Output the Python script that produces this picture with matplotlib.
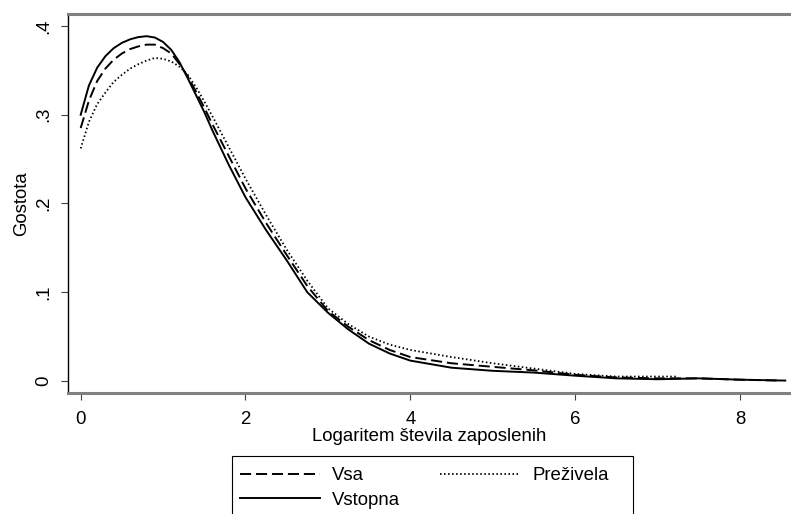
import numpy as np
import matplotlib
matplotlib.use("Agg")
import matplotlib.pyplot as plt
from matplotlib.patches import Rectangle

plt.rcParams['font.family'] = ['Liberation Sans', 'DejaVu Sans']
plt.rcParams['lines.scale_dashes'] = False

# Density estimates
x_vstopna = [0.0, 0.1, 0.2, 0.3, 0.4, 0.5, 0.6, 0.7, 0.8, 0.9, 1.0, 1.1, 1.2, 1.3, 1.4,
             1.5, 1.6, 1.8, 2.0, 2.25, 2.5, 2.75, 3.0, 3.25, 3.5, 3.75, 4.0, 4.5, 5.0,
             5.5, 6.0, 6.5, 7.0, 7.5, 8.0, 8.55]
y_vstopna = [0.300, 0.333, 0.353, 0.366, 0.375, 0.381, 0.385, 0.3875, 0.3885, 0.387, 0.382,
             0.373, 0.359, 0.341, 0.322, 0.303, 0.282, 0.243, 0.207, 0.170, 0.136, 0.100,
             0.077, 0.058, 0.042, 0.031, 0.023, 0.015, 0.0115, 0.0095, 0.006, 0.003,
             0.002, 0.003, 0.0015, 0.0005]

x_vsa = [0.0, 0.1, 0.2, 0.3, 0.4, 0.5, 0.6, 0.7, 0.8, 0.9, 1.0, 1.1, 1.2, 1.3, 1.4,
         1.5, 1.6, 1.8, 2.0, 2.25, 2.5, 2.75, 3.0, 3.25, 3.5, 3.75, 4.0, 4.5, 5.0,
         5.5, 6.0, 6.5, 7.0, 7.5, 8.0, 8.5]
y_vsa = [0.285, 0.316, 0.338, 0.352, 0.362, 0.369, 0.374, 0.377, 0.379, 0.379, 0.375,
         0.369, 0.357, 0.343, 0.326, 0.308, 0.289, 0.253, 0.217, 0.178, 0.142, 0.107,
         0.079, 0.061, 0.046, 0.035, 0.027, 0.020, 0.016, 0.012, 0.007, 0.004,
         0.003, 0.003, 0.0015, 0.0005]

x_prez = [0.0, 0.1, 0.2, 0.3, 0.4, 0.5, 0.6, 0.7, 0.8, 0.9, 1.0, 1.1, 1.2, 1.3, 1.4,
          1.5, 1.6, 1.8, 2.0, 2.25, 2.5, 2.75, 3.0, 3.25, 3.5, 3.75, 4.0, 4.5, 5.0,
          5.5, 6.0, 6.5, 7.0, 7.24]
y_prez = [0.262, 0.292, 0.312, 0.325, 0.337, 0.345, 0.352, 0.357, 0.361, 0.364, 0.363,
          0.360, 0.354, 0.345, 0.331, 0.315, 0.298, 0.263, 0.228, 0.187, 0.148, 0.113,
          0.082, 0.064, 0.050, 0.041, 0.035, 0.027, 0.020, 0.014, 0.008, 0.005,
          0.005, 0.005]

xticks = [0, 2, 4, 6, 8]
yticks = [0, 0.1, 0.2, 0.3, 0.4]
ytick_labels = ["0", ".1", ".2", ".3", ".4"]

FS = 13.4
W, H = 791, 514

fig = plt.figure(figsize=(W / 100, H / 100), dpi=100)
ax = fig.add_axes([68 / W, 121 / H, 1 - 68 / W, 379 / H])

l_vsa, = ax.plot(x_vsa, y_vsa, color='black', lw=1.4, dashes=(8, 3.5), label='Vsa')
l_vst, = ax.plot(x_vstopna, y_vstopna, color='black', lw=1.4, label='Vstopna')
l_pre, = ax.plot(x_prez, y_prez, color='black', lw=1.3, dashes=(1.1, 1.8), label='Preživela')

ax.set_xlim(-0.154, 8.62)
ax.set_ylim(-0.0135, 0.4135)
ax.set_xticks(xticks)
ax.set_yticks(yticks)
ax.set_yticklabels(ytick_labels, rotation=90, va='center')
ax.tick_params(axis='both', direction='out', length=5, width=0.8, color='#404040',
               labelsize=FS)
ax.tick_params(axis='x', pad=8)
ax.tick_params(axis='y', pad=6.5)

ax.spines['right'].set_visible(False)
ax.spines['left'].set_color('black')
ax.spines['left'].set_linewidth(1.0)
ax.spines['bottom'].set_color('#808080')
ax.spines['bottom'].set_linewidth(2.2)
ax.spines['top'].set_color('#808080')
ax.spines['top'].set_linewidth(2.2)

ax.set_xlabel("Logaritem števila zaposlenih", fontsize=FS, labelpad=0)
ax.set_ylabel("Gostota", fontsize=FS, labelpad=3.5)

# legend box runs past the bottom edge of the picture
fig.patches.append(Rectangle((232 / W, -0.05), (633 - 232) / W, (514 - 456) / H + 0.05,
                             transform=fig.transFigure, fill=False, ec='black', lw=0.8))
leg = fig.legend(handles=[l_vsa, l_vst, l_pre], loc='upper left',
                 bbox_to_anchor=(240 / W, 1 - 467 / H), ncol=2, fontsize=FS,
                 frameon=False, handlelength=4.3, handletextpad=0.65,
                 columnspacing=2.15, labelspacing=0.41, borderpad=0, borderaxespad=0)

fig.savefig("out.png", dpi=100)
